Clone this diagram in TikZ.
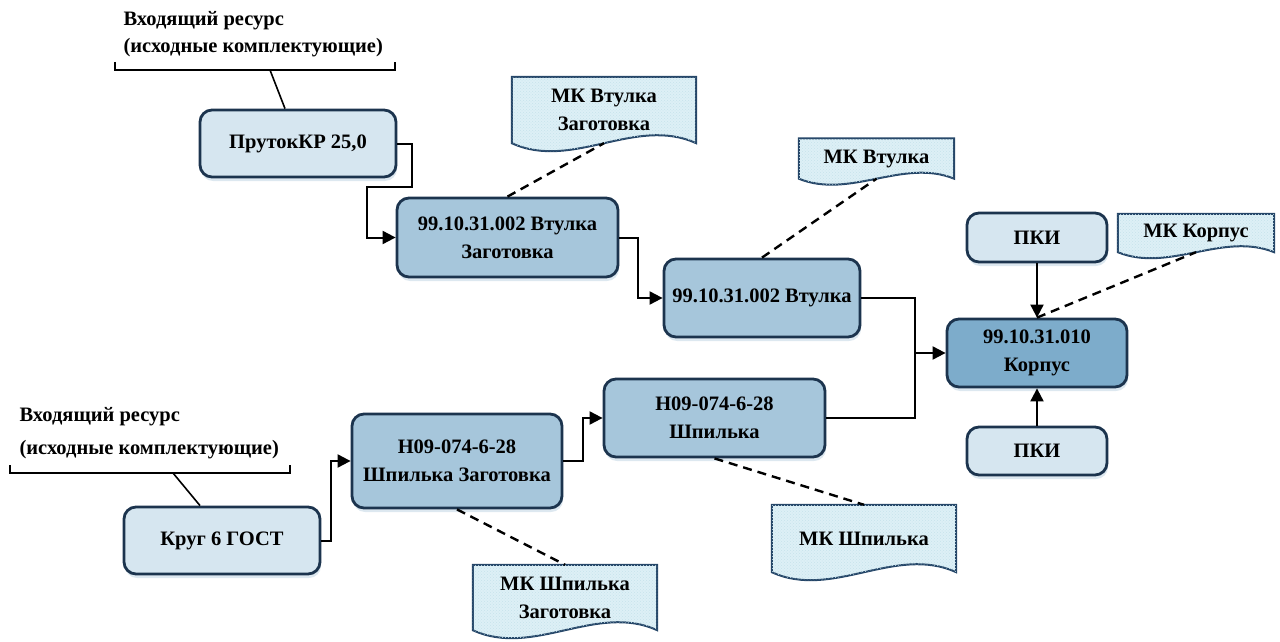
\documentclass[tikz,border=0pt]{standalone}
\usepackage{fontspec}
\setmainfont{Liberation Serif}
\usetikzlibrary{arrows.meta,calc,shadows,backgrounds,patterns}

\definecolor{boxline}{HTML}{1C344E}
\definecolor{lightfill}{HTML}{D6E6F0}
\definecolor{midfill}{HTML}{A6C6DB}
\definecolor{darkfill}{HTML}{7DACCB}
\definecolor{docfill}{HTML}{DDF0F6}
\definecolor{docdots}{HTML}{C6E2EC}
\definecolor{docline}{HTML}{254668}
\definecolor{shadowc}{HTML}{8FB3CC}

% document symbol with a wavy lower edge, drawn behind the text node #1;
% #2 is the height of the wave
\newcommand\docoutline[2]{%
  \draw[docedge] let \p1=(#1.north west), \p2=(#1.south east) in
    (\x1,\y1) -- (\x2,\y1) -- (\x2,\y2)
    .. controls ({\x2-0.33*(\x2-\x1)},{\y2+3.46*#2}) and ({\x1+0.33*(\x2-\x1)},{\y2-3.46*#2}) ..
    (\x1,\y2) -- cycle;}

\begin{document}
\begin{tikzpicture}[x=1pt,y=-1pt,
  txt/.style={font=\bfseries\fontsize{20.5}{28}\selectfont},
  box/.style={txt, rectangle, rounded corners=12pt, draw=boxline, line width=2.8pt,
    align=center, inner sep=0pt,
    drop shadow={shadow xshift=1pt, shadow yshift=-4pt, opacity=0.3, fill=shadowc}},
  lightbox/.style={box, fill=lightfill},
  midbox/.style={box, fill=midfill},
  darkbox/.style={box, fill=darkfill},
  docnode/.style={txt, rectangle, align=center, inner sep=0pt},
  docedge/.style={draw=docline, line width=2pt, fill=docfill,
    postaction={pattern=crosshatch dots, pattern color=docdots}},
  conn/.style={draw=black, line width=2pt},
  tip/.style={-{Triangle[length=13pt,width=13pt]}},
  ref/.style={draw=black, line width=2.4pt, dash pattern=on 9pt off 6pt},
  bracketline/.style={draw=black, line width=1.6pt},
]
\useasboundingbox (0,0) rectangle (1280,642);

% operations and resources
\node[lightbox, minimum width=196pt, minimum height=67pt] (prut)  at (298,143.5) {ПрутокКР 25,0};
\node[midbox,   minimum width=221pt, minimum height=79pt] (vzag)  at (507.5,237.5) {99.10.31.002 Втулка\\Заготовка};
\node[midbox,   minimum width=196pt, minimum height=78pt] (vtul)  at (762,298) {99.10.31.002 Втулка};
\node[darkbox,  minimum width=180pt, minimum height=68pt] (korp)  at (1037,353) {99.10.31.010\\Корпус};
\node[lightbox, minimum width=140pt, minimum height=49pt] (pki1)  at (1037,237.5) {ПКИ};
\node[lightbox, minimum width=140pt, minimum height=48pt] (pki2)  at (1037,451) {ПКИ};
\node[midbox,   minimum width=210pt, minimum height=94pt] (shzag) at (457,461) {Н09-074-6-28\\Шпилька Заготовка};
\node[midbox,   minimum width=221pt, minimum height=78pt] (shp)   at (714.5,418) {Н09-074-6-28\\Шпилька};
\node[lightbox, minimum width=196pt, minimum height=67pt] (krug)  at (222,540.5) {Круг 6 ГОСТ};

% route cards
\node[docnode, minimum width=184pt, minimum height=66pt] (d1) at (604,110) {МК Втулка\\Заготовка};
\node[docnode, minimum width=155pt, minimum height=40pt] (d2) at (876.5,158.5) {МК Втулка};
\node[docnode, minimum width=156pt, minimum height=38pt] (d3) at (1196,233) {МК Корпус};
\node[docnode, minimum width=184pt, minimum height=67pt] (d4) at (864,538.5) {МК Шпилька};
\node[docnode, minimum width=184pt, minimum height=65pt] (d5) at (565,597.5) {МК Шпилька\\Заготовка};

\begin{scope}[on background layer]
  \docoutline{d1}{8pt}
  \docoutline{d2}{6pt}
  \docoutline{d3}{6pt}
  \docoutline{d4}{8pt}
  \docoutline{d5}{8pt}
\end{scope}

% incoming resource labels
\node[txt, anchor=west, align=left, font=\bfseries\fontsize{20.5}{27}\selectfont]
  (lab1) at (120,34) {Входящий ресурс\\(исходные комплектующие)};
\node[txt, anchor=west, align=left, font=\bfseries\fontsize{20.5}{33}\selectfont]
  (lab2) at (16,433) {Входящий ресурс\\(исходные комплектующие)};

\coordinate (b1) at (270,70);
\coordinate (b2) at (173,473);
\draw[bracketline] (115,62) -- (115,70) -- (395,70) -- (395,62);
\draw[bracketline] (10,465) -- (10,473) -- (290,473) -- (290,465);
\draw[bracketline] (b1) -- ($(prut.north)+(-13,0)$);
\draw[bracketline] (b2) -- ($(krug.north)+(-22,0)$);

% material flow
\draw[conn, tip] (prut.east) -- (412,143.5) -- (412,187) -- (367,187) |- (vzag.west);
\draw[conn, tip] (vzag.east) -- (638,237.5) |- (vtul.west);
\draw[conn, tip] (vtul.east) -- (915,298) |- (korp.west);
\draw[conn] (shp.east) -| (915,353);
\draw[conn, tip] (krug.east) -- (331,540.5) |- (shzag.west);
\draw[conn, tip] (shzag.east) -- (583,461) |- (shp.west);
\draw[conn, tip] (pki1.south) -- (korp.north);
\draw[conn, tip] (pki2.north) -- (korp.south);

% links to route cards
\draw[ref] (vzag.north) -- (d1.south);
\draw[ref] (vtul.north) -- (d2.south);
\draw[ref] (korp.north) -- (d3.south);
\draw[ref] (shp.south) -- (d4.north);
\draw[ref] (shzag.south) -- (d5.north);
\end{tikzpicture}
\end{document}
